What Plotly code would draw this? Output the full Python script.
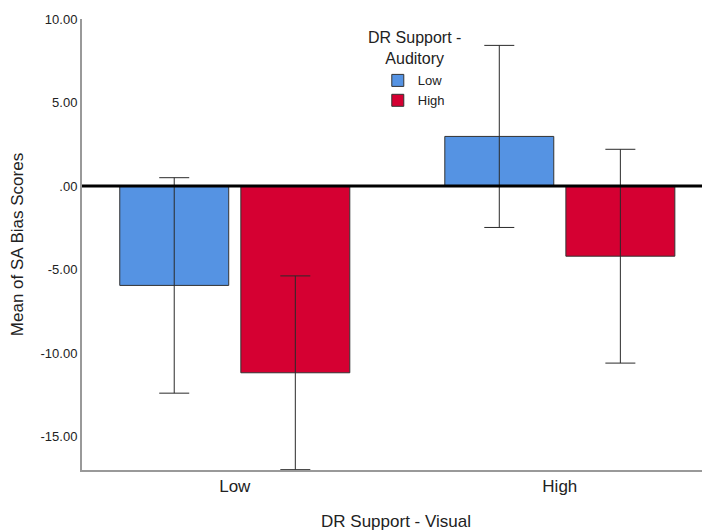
import plotly.graph_objects as go

categories = ["Low", "High"]
series_names = ["Low", "High"]
means_low_aud = [-5.95, 2.97]
err_low_aud = [6.45, 5.45]
means_high_aud = [-11.18, -4.2]
err_high_aud = [5.8, 6.4]
colors = ["#5593E3", "#D50032"]

ytick_vals = [10, 5, 0, -5, -10, -15]
ytick_text = ["10.00", "5.00", ".00", "-5.00", "-10.00", "-15.00"]

legend_title = "DR Support -<br>Auditory"

font_family = "Liberation Sans, Arial, sans-serif"
txt = "#222222"

fig = go.Figure()
for name, means, errs, col in zip(series_names, [means_low_aud, means_high_aud],
                                  [err_low_aud, err_high_aud], colors):
    fig.add_trace(go.Bar(
        x=categories, y=means, name=name,
        marker=dict(color=col, line=dict(color="#333333", width=1)),
        error_y=dict(type="data", array=errs, visible=True, color="#2a2a2a",
                     thickness=1, width=15),
    ))

fig.add_hline(y=0, line=dict(color="black", width=3), layer="above")

fig.add_annotation(
    text=legend_title, xref="paper", yref="paper",
    x=0.530, y=0.935, xanchor="center", yanchor="middle", showarrow=False,
    align="center", font=dict(size=16, color=txt),
)

fig.update_layout(
    width=702, height=523,
    margin=dict(l=74, r=0, t=11, b=61),
    paper_bgcolor="white", plot_bgcolor="white",
    barmode="group", bargap=0.255, bargroupgap=0.1,
    font=dict(family=font_family, color=txt),
    showlegend=True,
    legend=dict(
        x=0.471, y=0.897, xanchor="left", yanchor="top",
        font=dict(size=13, color=txt),
        bgcolor="rgba(0,0,0,0)", itemwidth=30, tracegroupgap=0,
    ),
    xaxis=dict(
        range=[-0.47, 1.462], showline=True, linecolor="#999999", linewidth=2,
        ticks="", showgrid=False, zeroline=False, automargin=False,
        tickfont=dict(size=17, color=txt),
        title=dict(text="DR Support - Visual", font=dict(size=17, color=txt), standoff=20),
    ),
    yaxis=dict(
        range=[-17, 10], showline=True, linecolor="#999999", linewidth=2,
        tickvals=ytick_vals, ticktext=ytick_text, ticks="", showgrid=False,
        zeroline=False, automargin=False, tickfont=dict(size=13, color=txt),
        title=dict(text="Mean of SA Bias Scores", font=dict(size=17, color=txt), standoff=15),
    ),
)

fig.write_html("out.html")
